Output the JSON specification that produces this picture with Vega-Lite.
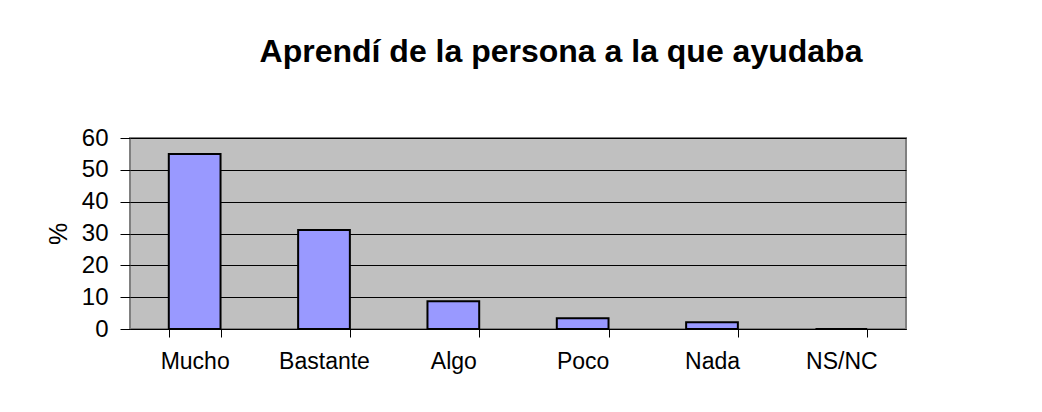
{
  "$schema": "https://vega.github.io/schema/vega-lite/v6.json",
  "autosize": {"type": "none"},
  "padding": {"left": 130, "top": 138, "right": 136, "bottom": 83},
  "width": 776,
  "height": 191,
  "background": "white",
  "title": {
    "text": "Aprendí de la persona a la que ayudaba",
    "font": "Liberation Sans",
    "fontSize": 32,
    "fontWeight": "bold",
    "color": "black",
    "anchor": "middle",
    "frame": "group",
    "baseline": "alphabetic",
    "dx": 43,
    "offset": 32
  },
  "data": {
    "values": [
      {"respuesta": "Mucho", "pct": 55.0},
      {"respuesta": "Bastante", "pct": 31.1},
      {"respuesta": "Algo", "pct": 8.7},
      {"respuesta": "Poco", "pct": 3.4},
      {"respuesta": "Nada", "pct": 2.1},
      {"respuesta": "NS/NC", "pct": 0}
    ]
  },
  "mark": {"type": "bar", "fill": "#9999FF", "stroke": "black", "strokeWidth": 2},
  "encoding": {
    "x": {
      "field": "respuesta",
      "type": "nominal",
      "sort": null,
      "scale": {"paddingInner": 0.6, "paddingOuter": 0.3},
      "axis": {
        "title": null,
        "labelAngle": 0,
        "labelFont": "Liberation Sans",
        "labelFontSize": 23,
        "labelColor": "black",
        "labelPadding": 13,
        "tickBand": "extent",
        "tickSize": 8,
        "tickColor": "black",
        "domainColor": "black",
        "grid": false
      }
    },
    "y": {
      "field": "pct",
      "type": "quantitative",
      "scale": {"domain": [0, 60]},
      "axis": {
        "title": "%",
        "titleFont": "Liberation Sans",
        "titleFontSize": 25,
        "titleFontWeight": "normal",
        "titleColor": "black",
        "titlePadding": 10,
        "values": [0, 10, 20, 30, 40, 50, 60],
        "labelFont": "Liberation Sans",
        "labelFontSize": 24,
        "labelColor": "black",
        "labelPadding": 12,
        "tickSize": 10,
        "tickColor": "black",
        "domain": false,
        "grid": true,
        "gridColor": "black",
        "gridOpacity": 1,
        "gridWidth": 1
      }
    }
  },
  "config": {
    "view": {"fill": "#C0C0C0", "stroke": "#808080", "strokeWidth": 2}
  }
}
